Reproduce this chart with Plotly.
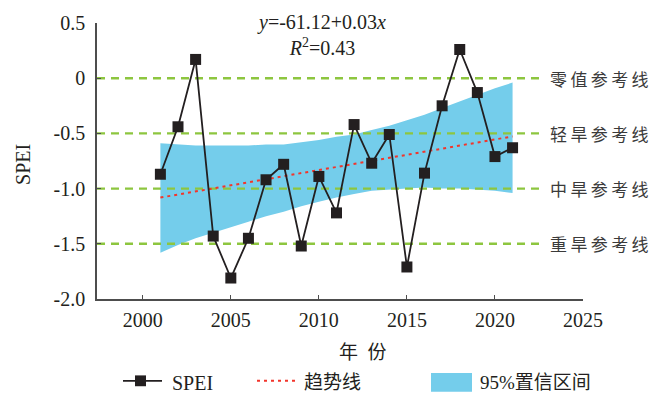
import numpy as np
import plotly.graph_objects as go

# ---- data -------------------------------------------------------------
years = list(range(2001, 2022))
spei = [-0.87, -0.44, 0.17, -1.43, -1.81, -1.45, -0.92, -0.78, -1.52, -0.89, -1.22,
        -0.42, -0.77, -0.51, -1.71, -0.86, -0.25, 0.26, -0.13, -0.71, -0.63]
ci_upper = [-0.59, -0.60, -0.61, -0.61, -0.61, -0.61, -0.60, -0.60, -0.58, -0.56, -0.53,
            -0.51, -0.47, -0.43, -0.38, -0.33, -0.27, -0.21, -0.15, -0.09, -0.04]
ci_lower = [-1.58, -1.51, -1.45, -1.40, -1.35, -1.30, -1.25, -1.21, -1.16, -1.12, -1.08,
            -1.05, -1.02, -1.01, -1.00, -0.99, -1.00, -1.00, -1.01, -1.02, -1.04]
ref_levels = [0.0, -0.5, -1.0, -1.5]
ref_labels = ["零值参考线", "轻旱参考线", "中旱参考线", "重旱参考线"]
x_ticks = [2000, 2005, 2010, 2015, 2020, 2025]
y_ticks = [0.5, 0.0, -0.5, -1.0, -1.5, -2.0]
y_ticktext = ["0.5", "0", "-0.5", "-1.0", "-1.5", "-2.0"]
equation = "<i>y</i>=-61.12+0.03<i>x</i>"
r_squared = "<i>R</i><sup>2</sup>=0.43"

# linear trend fitted to the SPEI series
slope, intercept = np.polyfit(years, spei, 1)
trend = [intercept + slope * yr for yr in years]

# ---- styling ----------------------------------------------------------
W, H = 660, 394
L, R, T, B = 97, 77, 19, 95
SERIF = "Liberation Serif, Times New Roman, Noto Sans CJK SC, serif"
CJK = "Liberation Serif, Noto Sans CJK SC, sans-serif"
BLACK = "#231F20"
AXIS = "#4D4D4D"
GREEN = "#8DC63F"
RED = "#F2352B"
BLUE = "#74CDEB"
XMIN, XMAX = 1997.4, 2025.0
REF_END = 2022.55


def px_x(p):
    return (p - L) / (W - L - R)


def px_y(p):
    return (H - B - p) / (H - T - B)


def label(x, y, text, family, size, xanchor="center", **kw):
    return dict(x=px_x(x), y=px_y(y), xref="paper", yref="paper", text=text,
                xanchor=xanchor, yanchor="middle", showarrow=False,
                font=dict(family=family, size=size, color=BLACK), **kw)


fig = go.Figure()

# 95% confidence band
fig.add_trace(go.Scatter(
    x=years + years[::-1], y=ci_upper + ci_lower[::-1],
    fill="toself", fillcolor=BLUE, line=dict(width=0), mode="lines",
    hoverinfo="skip", showlegend=False))

# drought reference lines
for lvl in ref_levels:
    fig.add_trace(go.Scatter(
        x=[XMIN, REF_END], y=[lvl, lvl], mode="lines",
        line=dict(color=GREEN, width=2.4, dash="8px,6px"),
        hoverinfo="skip", showlegend=False, cliponaxis=False))

# trend line
fig.add_trace(go.Scatter(
    x=years, y=trend, mode="lines",
    line=dict(color=RED, width=2, dash="3px,4px"), showlegend=False))

# SPEI series
fig.add_trace(go.Scatter(
    x=years, y=spei, mode="lines+markers",
    line=dict(color=BLACK, width=1.8),
    marker=dict(symbol="square", size=11, color=BLACK, line=dict(width=0)),
    showlegend=False))

annotations = []
for lvl, lab in zip(ref_levels, ref_labels):
    annotations.append(dict(
        x=px_x(548), xref="paper", y=lvl, yref="y", xanchor="left", yanchor="middle",
        text="\u2009".join(lab), showarrow=False,
        font=dict(family="Noto Sans CJK SC", size=17, color="#3A3A3A")))

annotations += [
    label(321, 31, equation + "<br>" + r_squared, SERIF, 20, align="center"),
    label(363, 351, "年\u2002份", "Noto Sans CJK SC", 19),
    label(23, 163, "SPEI", SERIF, 20, textangle=-90),
]

# legend, drawn below the axis
shapes = [
    dict(type="line", xref="paper", yref="paper", x0=px_x(123), x1=px_x(162),
         y0=px_y(382), y1=px_y(382), line=dict(color=BLACK, width=1.8)),
    dict(type="rect", xref="paper", yref="paper", x0=px_x(135), x1=px_x(146),
         y0=px_y(376.5), y1=px_y(387.5), fillcolor=BLACK, line=dict(width=0)),
    dict(type="line", xref="paper", yref="paper", x0=px_x(257), x1=px_x(295),
         y0=px_y(382), y1=px_y(382), line=dict(color=RED, width=2, dash="3px,4px")),
    dict(type="rect", xref="paper", yref="paper", x0=px_x(431), x1=px_x(472),
         y0=px_y(374), y1=px_y(393), fillcolor=BLUE, line=dict(width=0)),
]
annotations += [
    label(170, 384, "SPEI", SERIF, 20, xanchor="left"),
    label(302, 384, "趋势线", CJK, 19, xanchor="left"),
    label(478, 384, "95%置信区间", CJK, 19, xanchor="left"),
]

fig.update_layout(
    width=W, height=H, margin=dict(l=L, r=R, t=T, b=B),
    paper_bgcolor="white", plot_bgcolor="white",
    showlegend=False, annotations=annotations, shapes=shapes,
    font=dict(family=SERIF, size=20, color=BLACK),
)
fig.update_xaxes(
    range=[XMIN, XMAX], tickvals=x_ticks, ticks="inside", ticklen=4,
    tickcolor=AXIS, tickwidth=1.2, showline=True, linecolor=AXIS, linewidth=1.5,
    showgrid=False, zeroline=False, ticklabelstandoff=2,
    tickfont=dict(family=SERIF, size=20, color=BLACK))
fig.update_yaxes(
    range=[-2.0, 0.5], tickvals=y_ticks, ticktext=y_ticktext, ticks="inside",
    ticklen=4, tickcolor=AXIS, tickwidth=1.2, showline=True, linecolor=AXIS,
    linewidth=1.5, showgrid=False, zeroline=False, ticklabelstandoff=6,
    tickfont=dict(family=SERIF, size=20, color=BLACK))

fig.write_html("out.html")
